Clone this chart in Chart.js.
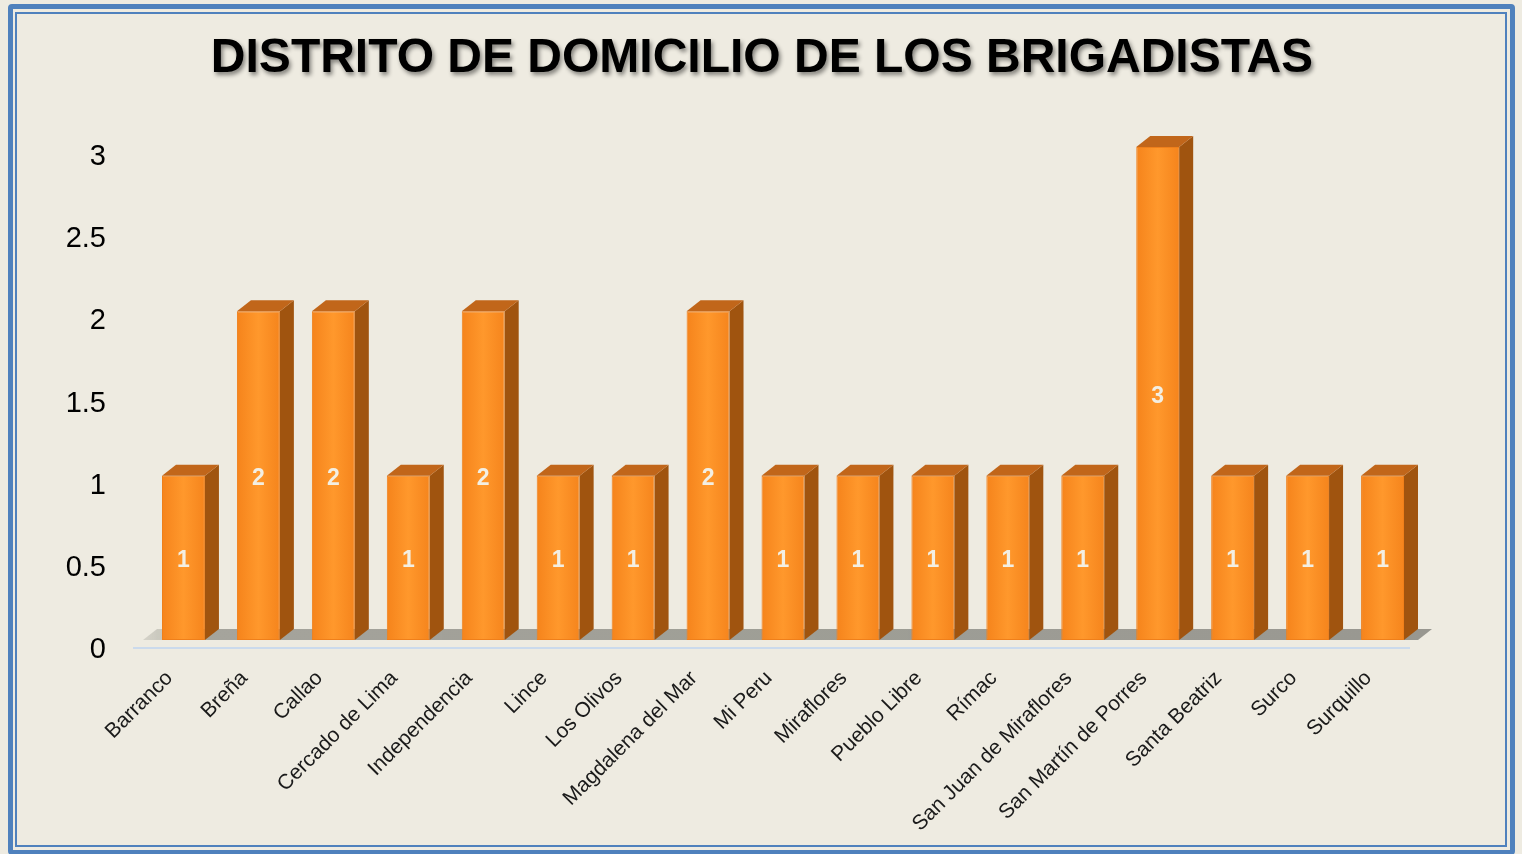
<!DOCTYPE html>
<html>
<head>
<meta charset="utf-8">
<title>Distrito de domicilio de los brigadistas</title>
<script src="https://cdn.jsdelivr.net/npm/chart.js@4.4.1/dist/chart.umd.min.js"></script>
<style>
  html, body { margin: 0; padding: 0; background: #EEEBE1; overflow: hidden; }
  #frame {
    position: absolute; left: 8px; top: 4px; width: 1497px; height: 841px;
    border: 5px solid #4F81BD; border-radius: 4px;
  }
  #inner {
    position: absolute; left: 2px; top: 3px; right: 3px; bottom: 3px;
    border: 2px solid #4F81BD;
  }
  #wrap { position: absolute; left: 0; top: 0; width: 1522px; height: 854px; }
</style>
</head>
<body>
<div id="frame"><div id="inner"></div></div>
<div id="wrap"><canvas id="chart" width="1522" height="854"></canvas></div>
<script>
// data
const districts = [
  "Barranco", "Breña", "Callao", "Cercado de Lima", "Independencia", "Lince",
  "Los Olivos", "Magdalena del Mar", "Mi Peru", "Miraflores", "Pueblo Libre",
  "Rímac", "San Juan de Miraflores", "San Martín de Porres", "Santa Beatriz",
  "Surco", "Surquillo"
];
const brigadistas = [1, 2, 2, 1, 2, 1, 1, 2, 1, 1, 1, 1, 1, 3, 1, 1, 1];
const yTicks = [0, 0.5, 1, 1.5, 2, 2.5, 3];

const DX = 14, DY = 11; // 3d depth of the bars

// floor shadow under the bars + light axis line
const floorPlugin = {
  id: "floor",
  beforeDatasetsDraw(chart) {
    const ctx = chart.ctx;
    const area = chart.chartArea;
    const y0 = chart.scales.y.getPixelForValue(0);
    ctx.save();
    const g = ctx.createLinearGradient(area.left, 0, area.right, 0);
    g.addColorStop(0, "rgba(150,150,140,0.3)");
    g.addColorStop(0.05, "rgba(140,140,132,0.75)");
    g.addColorStop(1, "rgba(130,130,124,0.8)");
    ctx.fillStyle = g;
    ctx.beginPath();
    ctx.moveTo(area.left - 3, y0);
    ctx.lineTo(area.right - 2, y0);
    ctx.lineTo(area.right - 2 + DX, y0 - DY);
    ctx.lineTo(area.left - 3 + DX, y0 - DY);
    ctx.closePath();
    ctx.fill();
    ctx.strokeStyle = "#CBDAEC";
    ctx.lineWidth = 2;
    ctx.beginPath();
    ctx.moveTo(area.left - 13, y0 + 8);
    ctx.lineTo(area.right - 10, y0 + 8);
    ctx.stroke();
    ctx.restore();
  }
};

// side and top faces of each bar, then the value labels
const barsPlugin = {
  id: "bars3d",
  afterDatasetsDraw(chart) {
    const ctx = chart.ctx;
    const meta = chart.getDatasetMeta(0);
    ctx.save();
    meta.data.forEach((bar, i) => {
      const p = bar.getProps(["x", "y", "base", "width"], true);
      const l = p.x - p.width / 2, r = p.x + p.width / 2;
      // side
      ctx.fillStyle = "#A0540F";
      ctx.beginPath();
      ctx.moveTo(r, p.base);
      ctx.lineTo(r, p.y);
      ctx.lineTo(r + DX, p.y - DY);
      ctx.lineTo(r + DX, p.base - DY);
      ctx.closePath();
      ctx.fill();
      // top
      ctx.fillStyle = "#C1661A";
      ctx.beginPath();
      ctx.moveTo(l, p.y);
      ctx.lineTo(r, p.y);
      ctx.lineTo(r + DX, p.y - DY);
      ctx.lineTo(l + DX, p.y - DY);
      ctx.closePath();
      ctx.fill();
      // value label
      ctx.fillStyle = "#F3EFE3";
      ctx.font = "bold 23px 'Liberation Sans', Arial, sans-serif";
      ctx.textAlign = "center";
      ctx.textBaseline = "middle";
      ctx.fillText(String(brigadistas[i]), p.x, (p.y + p.base) / 2 + 3);
    });
    ctx.restore();
  }
};

const titlePlugin = {
  id: "titleShadow",
  afterDraw(chart) {
    const ctx = chart.ctx;
    ctx.save();
    ctx.font = "bold 48px 'Liberation Sans', Arial, sans-serif";
    ctx.textAlign = "center";
    ctx.textBaseline = "middle";
    ctx.shadowColor = "rgba(0,0,0,0.45)";
    ctx.shadowOffsetX = 2;
    ctx.shadowOffsetY = 3;
    ctx.shadowBlur = 4;
    ctx.fillStyle = "#000";
    ctx.fillText("DISTRITO DE DOMICILIO DE LOS BRIGADISTAS", 762, 59);
    ctx.restore();
  }
};

function frontColor(c) {
  const chart = c.chart;
  if (!chart.chartArea) return "#F98B22";
  const x = chart.scales.x.getPixelForValue(c.dataIndex);
  const g = chart.ctx.createLinearGradient(x - 22, 0, x + 22, 0);
  g.addColorStop(0, "#F5831B");
  g.addColorStop(0.5, "#FF982C");
  g.addColorStop(1, "#F5841C");
  return g;
}

new Chart(document.getElementById("chart"), {
  type: "bar",
  data: {
    labels: districts,
    datasets: [{
      data: brigadistas,
      backgroundColor: frontColor,
      borderColor: "#EF7F1A",
      borderWidth: 1,
      borderSkipped: false,
      barPercentage: 0.573,
      categoryPercentage: 1
    }]
  },
  options: {
    responsive: false,
    animation: false,
    layout: { padding: { left: 0, right: 102, top: 147, bottom: 0 } },
    plugins: {
      legend: { display: false },
      tooltip: { enabled: false },
      title: { display: false }
    },
    scales: {
      x: {
        grid: { display: false, drawTicks: false },
        border: { display: false },
        ticks: {
          maxRotation: 45,
          minRotation: 45,
          autoSkip: false,
          padding: 26,
          labelOffset: -14,
          color: "#1A1A1A",
          font: { family: "'Liberation Sans', Arial, sans-serif", size: 21 }
        },
        afterFit(scale) { scale.height = 214; }
      },
      y: {
        min: 0,
        max: 3,
        grid: { display: false, drawTicks: false },
        border: { display: false },
        afterBuildTicks(scale) { scale.ticks = yTicks.map(v => ({ value: v })); },
        ticks: {
          padding: 40,
          labelOffset: 10,
          color: "#000",
          callback: v => String(v),
          font: { family: "'Liberation Sans', Arial, sans-serif", size: 29 }
        },
        afterFit(scale) { scale.width = 146; }
      }
    }
  },
  plugins: [floorPlugin, barsPlugin, titlePlugin]
});
</script>
</body>
</html>
